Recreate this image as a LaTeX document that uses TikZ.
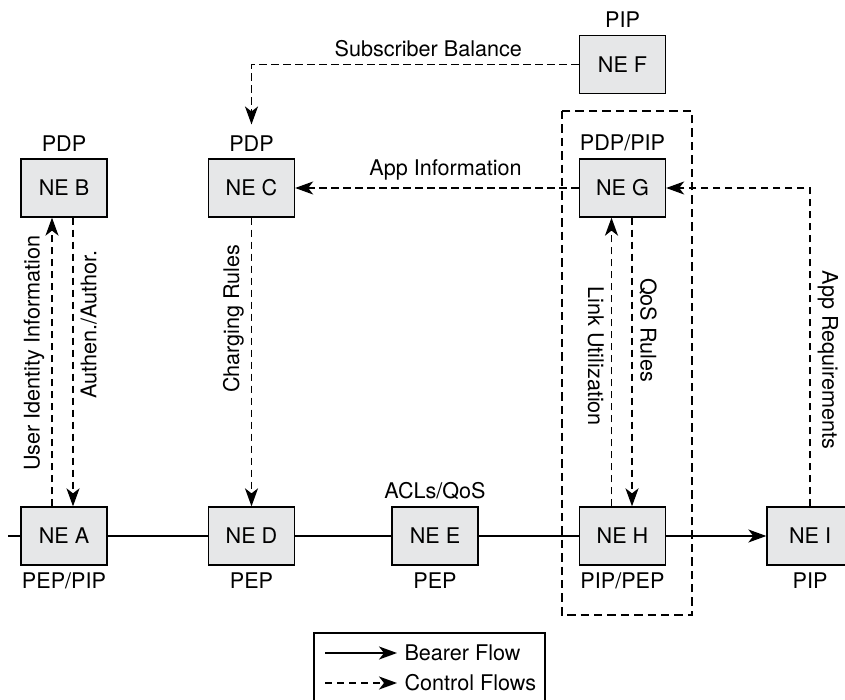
\documentclass[tikz,border=0pt]{standalone}
\usepackage{fontspec}
\setmainfont{TeX Gyre Heros}
\usetikzlibrary{arrows.meta}
\definecolor{boxgray}{RGB}{230,231,232}

\begin{document}
\begin{tikzpicture}[x=0.5pt, y=-0.5pt,
    font=\fontsize{10.8}{12.5}\selectfont,
    ne/.style={draw, line width=0.65pt, fill=boxgray, minimum width=43pt, minimum height=29pt, inner sep=0pt},
    bearer/.style={line width=0.85pt},
    ctrl/.style={line width=0.9pt, dash pattern=on 3.7pt off 2.3pt},
    arr/.style={-{Stealth[length=9pt, width=6.5pt, inset=2.5pt]}},
    group/.style={line width=1.15pt, dash pattern=on 4.2pt off 2.5pt}]
    \useasboundingbox (0,0) rectangle (845,700);
    \clip (0,0) rectangle (845,700);

    % network elements
    \node[ne] (nea) at (64,536) {NE A};
    \node[ne] (neb) at (64,188) {NE B};
    \node[ne] (nec) at (251.5,188) {NE C};
    \node[ne] (ned) at (251.5,536) {NE D};
    \node[ne] (nee) at (435,536) {NE E};
    \node[ne] (nef) at (622.5,64.5) {NE F};
    \node[ne] (neg) at (622.5,188) {NE G};
    \node[ne] (neh) at (622.5,536) {NE H};
    \node[ne] (nei) at (810,536) {NE I};

    % roles
    \node[above] (roleb) at (neb.north) {PDP};
    \node[above] (rolec) at (nec.north) {PDP};
    \node[above] (rolef) at (nef.north) {PIP};
    \node[above] (roleg) at (neg.north) {PDP/PIP};
    \node[above] (rolee) at (nee.north) {ACLs/QoS};
    \node[below] (rolea) at (nea.south) {PEP/PIP};
    \node[below] (roled) at (ned.south) {PEP};
    \node[below] (roleee) at (nee.south) {PEP};
    \node[below] (roleh) at (neh.south) {PIP/PEP};
    \node[below] (rolei) at (nei.south) {PIP};

    % bearer path
    \coordinate (start) at (8,536);
    \draw[bearer] (start) -- (nea);
    \draw[bearer] (nea) -- (ned);
    \draw[bearer] (ned) -- (nee);
    \draw[bearer] (nee) -- (neh);
    \draw[bearer, arr] (neh) -- (nei);

    % control flows
    \draw[ctrl, arr] ([xshift=-6pt]nea.north) -- ([xshift=-6pt]neb.south)
        node[pos=0.53, rotate=90, anchor=south] (uid) {User Identity Information};
    \draw[ctrl, arr] ([xshift=4.5pt]neb.south) -- ([xshift=4.5pt]nea.north)
        node[pos=0.37, rotate=90, anchor=north] (auth) {Authen./Author.};
    \draw[ctrl, arr] (nec) -- (ned)
        node[pos=0.35, rotate=90, anchor=south] (charge) {Charging Rules};
    \draw[ctrl, arr] (nef) -| ([yshift=2pt]rolec.north)
        node[pos=0.23, above] (balance) {Subscriber Balance};
    \draw[ctrl, arr] (neg) -- (nec)
        node[pos=0.47, above] (appinfo) {App Information};
    \draw[ctrl, arr] ([xshift=-5.5pt]neh.north) -- ([xshift=-5.5pt]neg.south)
        node[pos=0.52, rotate=-90, anchor=north] (link) {Link Utilization};
    \draw[ctrl, arr] ([xshift=4.75pt]neg.south) -- ([xshift=4.75pt]neh.north)
        node[pos=0.39, rotate=-90, anchor=south] (qos) {QoS Rules};
    \draw[ctrl, arr] (nei) |- (neg)
        node[pos=0.23, rotate=-90, anchor=south] (appreq) {App Requirements};

    % G and H grouped
    \draw[group] (562,111) rectangle (692,615);

    % legend
    \draw[line width=0.65pt] (314,633) rectangle (545,710);
    \coordinate (lga) at (325,653);
    \coordinate (lgb) at (397,653);
    \coordinate (lgc) at (325,683);
    \coordinate (lgd) at (397,683);
    \draw[bearer, arr] (lga) -- (lgb) node[right] (lgbearer) {Bearer Flow};
    \draw[ctrl, arr] (lgc) -- (lgd) node[right] (lgctrl) {Control Flows};
\end{tikzpicture}
\end{document}
